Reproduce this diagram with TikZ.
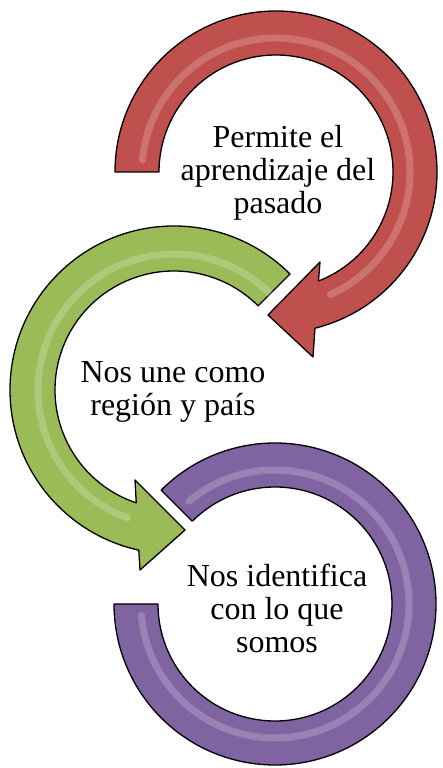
\documentclass[tikz,border=0pt]{standalone}
\usepackage{fontspec}
\setmainfont{Liberation Serif}
\usetikzlibrary{calc}
\definecolor{pastred}{HTML}{C0504D}
\definecolor{uniongreen}{HTML}{9BBB59}
\definecolor{selfpurple}{HTML}{8064A2}
\tikzset{
  band/.style={draw=black, line width=1.3pt, line join=round},
  gloss/.style={draw=white, line width=7pt, opacity=0.2, line cap=round},
  caption/.style={font=\fontsize{32}{33}\selectfont, align=center, inner sep=0pt}
}

\begin{document}
\begin{tikzpicture}[x=1pt, y=1pt]
  \useasboundingbox (0,0) rectangle (442,768);
  \coordinate (cr) at (276,596);
  \coordinate (cg) at (174,378);
  \coordinate (cp) at (275,164);

  % purple ring, both ends flat
  \draw[band, fill=selfpurple] ($(cp)+(135:161)$) arc[start angle=135, end angle=-180, radius=161]
    -- ($(cp)+(180:117)$) arc[start angle=-180, end angle=135, radius=117] -- cycle;
  \draw[gloss] ($(cp)+(130:134)$) arc[start angle=130, end angle=-175, radius=134];

  % green ring with head
  \draw[band, fill=uniongreen] ($(cg)+(45:164)$) arc[start angle=45, end angle=257.6, radius=164]
    -- (140,198) -- (185,238) -- (135,288)
    -- ($(cg)+(251.5:119)$) arc[start angle=251.5, end angle=45, radius=119] -- cycle;
  \draw[gloss] ($(cg)+(40:136)$) arc[start angle=40, end angle=250, radius=136];

  % red ring with head
  \draw[band, fill=pastred] ($(cr)+(180:161)$) arc[start angle=180, end angle=-76, radius=161]
    -- (313,411) -- (268,453) -- (320,506)
    -- ($(cr)+(-68.7:117)$) arc[start angle=-68.7, end angle=180, radius=117] -- cycle;
  \draw[gloss] ($(cr)+(175:134)$) arc[start angle=175, end angle=-66, radius=134];

  % captions
  \node[caption] (pasado) at ($(cr)+(2,-1)$) {Permite el\\aprendizaje del\\pasado};
  \node[caption] (region) at ($(cg)+(-1,-2)$) {Nos une como\\región y país};
  \node[caption] (somos) at ($(cp)+(2,-4)$) {Nos identifica\\con lo que\\somos};
\end{tikzpicture}
\end{document}
